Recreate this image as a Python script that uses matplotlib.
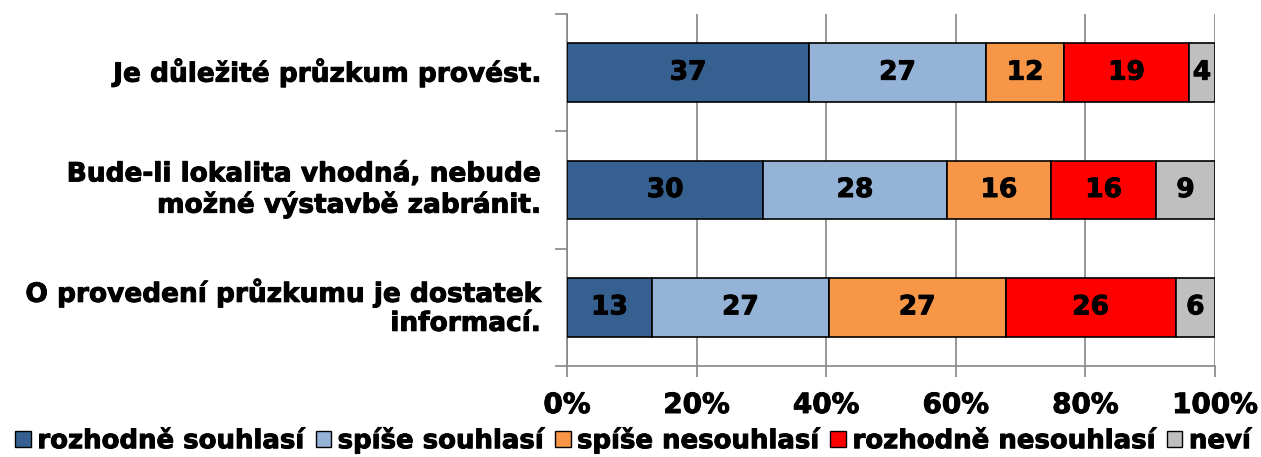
import matplotlib.pyplot as plt
import matplotlib.patheffects as pe
import numpy as np
from matplotlib.patches import Patch

categories = [
    "Je důležité průzkum provést.",
    "Bude-li lokalita vhodná, nebude\nmožné výstavbě zabránit.",
    "O provedení průzkumu je dostatek\ninformací.",
]
series = ["rozhodně souhlasí", "spíše souhlasí", "spíše nesouhlasí",
          "rozhodně nesouhlasí", "neví"]
values = [
    [37, 27, 12, 19, 4],
    [30, 28, 16, 16, 9],
    [13, 27, 27, 26, 6],
]
colors = ["#36608F", "#95B3D7", "#F79646", "#FF0000", "#BFBFBF"]
xticks = [0, 20, 40, 60, 80, 100]

plt.rcParams["font.family"] = ["DejaVu Sans"]
plt.rcParams["font.weight"] = "bold"

# slight stroke to get closer to the heavy Verdana look
heavy = [pe.withStroke(linewidth=0.7, foreground="black")]

fig = plt.figure(figsize=(12.61, 4.57), dpi=100)
ax = fig.add_axes([567 / 1261, 1 - 366 / 457, 648 / 1261, 352 / 457])

data = np.array(values, dtype=float)
pct = data / data.sum(axis=1, keepdims=True) * 100
y = np.arange(len(categories))[::-1]

left = np.zeros(len(categories))
for j, name in enumerate(series):
    ax.barh(y, pct[:, j], left=left, height=0.5, color=colors[j],
            edgecolor="black", linewidth=1.2, zorder=3)
    for i in range(len(categories)):
        ax.text(left[i] + pct[i, j] / 2, y[i], f"{values[i][j]}",
                ha="center", va="center", fontsize=19, fontweight="bold",
                color="black", zorder=4, path_effects=heavy)
    left += pct[:, j]

ax.set_xlim(0, 100)
ax.set_ylim(-0.5, 2.5)
ax.set_xticks(xticks)
ax.set_xticklabels([f"{t}%" for t in xticks], fontsize=20, fontweight="bold")
for lbl in ax.get_xticklabels():
    lbl.set_path_effects(heavy)
ax.set_yticks([-0.5, 0.5, 1.5, 2.5])
ax.set_yticklabels([])
ax.tick_params(axis="y", length=9, color="#868686", width=1.2)
ax.tick_params(axis="x", length=8, color="#868686", width=1.2, pad=10)
ax.grid(axis="x", color="#868686", linewidth=1.2, zorder=0)
for s in ["top", "right"]:
    ax.spines[s].set_visible(False)
for s in ["left", "bottom"]:
    ax.spines[s].set_color("#868686")
    ax.spines[s].set_linewidth(1.2)

for i, cat in enumerate(categories):
    ax.text(-4, y[i], cat, transform=ax.transData, ha="right", va="center",
            fontsize=19, fontweight="bold", linespacing=1.15,
            path_effects=heavy)

handles = [Patch(facecolor=c, edgecolor="black", linewidth=1.0) for c in colors]
leg = fig.legend(handles, series, loc="lower center",
                 bbox_to_anchor=(0.502, -0.045), ncol=5, frameon=False,
                 handlelength=0.6, handleheight=0.6, handletextpad=0.25,
                 columnspacing=0.45, prop={"weight": "bold", "size": 18.7})
for t in leg.get_texts():
    t.set_path_effects(heavy)

fig.savefig("out.png", dpi=100)
